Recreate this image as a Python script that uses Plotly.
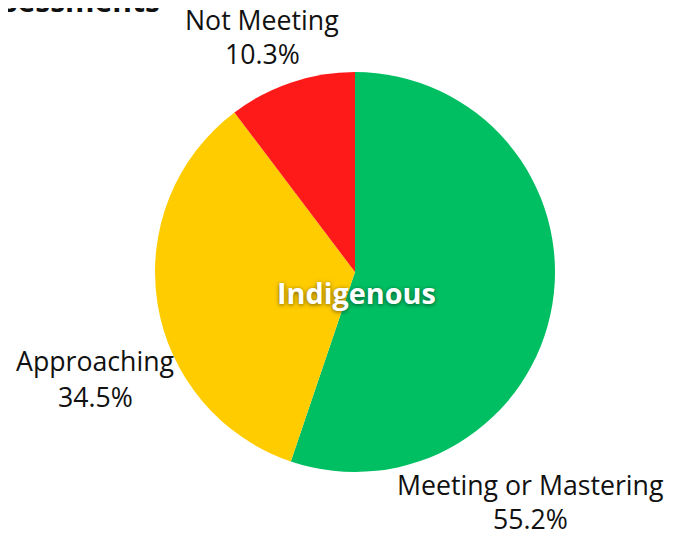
import plotly.graph_objects as go

categories = ["Meeting or Mastering", "Approaching", "Not Meeting"]
values = [55.2, 34.5, 10.3]
colors = ["#00BF63", "#FFCC00", "#FF1A1A"]
center_label = "Indigenous"
title_text = "Assessments"

W, H = 682, 533
OFF = 8  # page body margin offset
# label anchor positions in screen pixels (x, name line centre y, percent line centre y)
label_px = {
    "Meeting or Mastering": (530, 484, 519),
    "Approaching": (95, 360, 396),
    "Not Meeting": (262, 19, 54),
}

def px(x):
    return (x - OFF) / W

def py(y):
    return 1 - (y - OFF) / H

cx, cy, r = 355, 272, 200

fig = go.Figure(go.Pie(
    labels=categories,
    values=values,
    marker=dict(colors=colors, line=dict(width=0)),
    sort=False,
    direction="clockwise",
    rotation=0,
    textinfo="none",
    hoverinfo="label+percent",
    showlegend=False,
    domain=dict(x=[px(cx - r), px(cx + r)], y=[py(cy + r), py(cy - r)]),
))

font_family = "Open Sans"
annotations = []
total = sum(values)
for cat, val in zip(categories, values):
    x, y1, y2 = label_px[cat]
    annotations.append(dict(text=cat, x=px(x), y=py(y1), xref="paper", yref="paper",
                            showarrow=False, xanchor="center", yanchor="middle",
                            font=dict(family=font_family, size=26.7, color="#111111")))
    annotations.append(dict(text=f"{val / total * 100:.1f}%", x=px(x), y=py(y2), xref="paper", yref="paper",
                            showarrow=False, xanchor="center", yanchor="middle",
                            font=dict(family=font_family, size=26.7, color="#111111")))

annotations.append(dict(text=f"<b>{center_label}</b>", x=px(356), y=py(292), xref="paper", yref="paper",
                        showarrow=False, xanchor="center", yanchor="middle",
                        font=dict(family=font_family, size=28.8, color="white",
                                  shadow="0px 1px 4px rgba(0,0,0,0.55)")))

annotations.append(dict(text=f"<b>{title_text}</b>", x=px(162), y=py(0.5), xref="paper", yref="paper",
                        showarrow=False, xanchor="right", yanchor="middle",
                        font=dict(family=font_family, size=30, color="#111111")))

fig.update_layout(
    width=W, height=H,
    margin=dict(l=0, r=0, t=0, b=0),
    paper_bgcolor="white",
    plot_bgcolor="white",
    annotations=annotations,
)

fig.write_html("out.html")
